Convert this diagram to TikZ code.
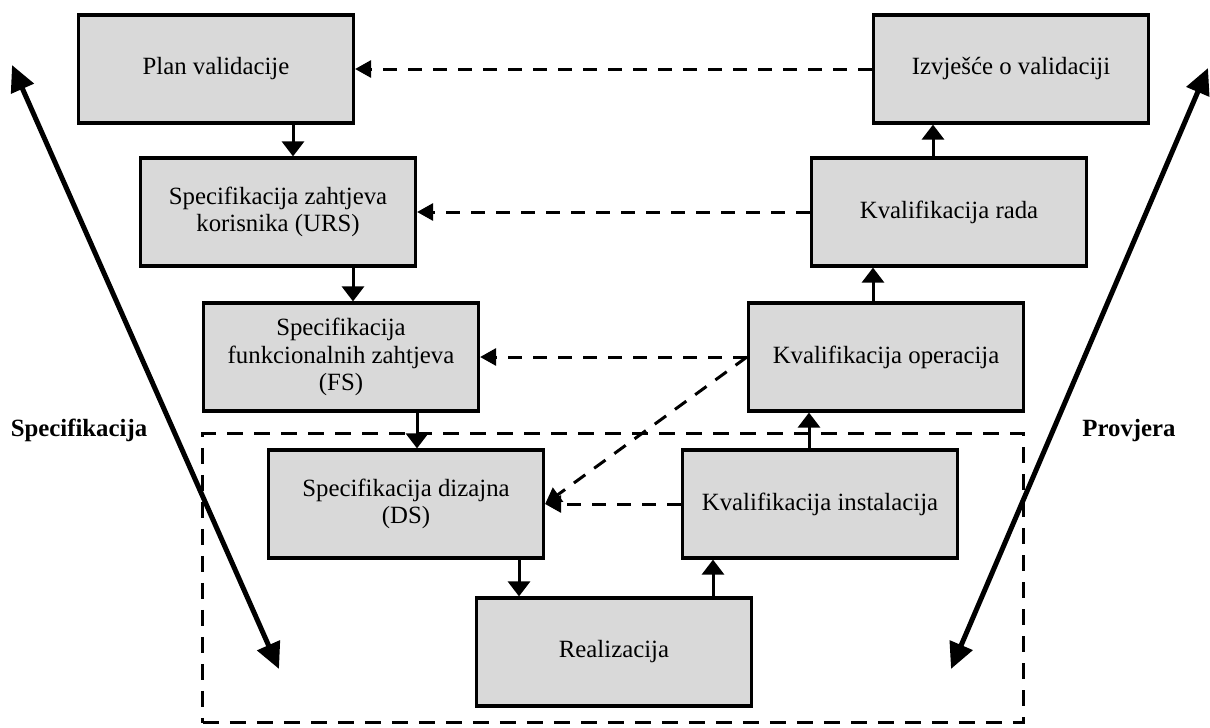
\documentclass[tikz,border=0pt]{standalone}
\usepackage{fontspec}
\setmainfont{Liberation Serif}
\usepackage{xcolor}
\usepackage{tikz}
\usetikzlibrary{calc, fit, arrows.meta}
\pgfdeclarelayer{background}
\pgfsetlayers{background,main}
\definecolor{boxgray}{HTML}{D9D9D9}
\tikzstyle{stage}     = [rectangle, minimum width=137.5pt, minimum height=54pt, inner sep=0pt, align=center, draw=black, line width=1.6pt, fill=boxgray, font=\fontsize{12.4}{13.8}\selectfont]
\tikzstyle{arrow}     = [line width=1.5pt, -{Triangle[length=7.5pt, width=11pt]}]
\tikzstyle{dasharrow} = [line width=1.5pt, dash pattern=on 7pt off 5.5pt, -{Triangle[length=8pt, width=8.5pt]}]
\tikzstyle{bigarrow}  = [line width=2.5pt, {Triangle[length=13pt, width=12pt]}-{Triangle[length=13pt, width=12pt]}]
\tikzstyle{dashbox}   = [draw, line width=1.5pt, dash pattern=on 8pt off 5.5pt, rectangle]
\tikzstyle{sidelabel} = [font=\fontsize{12.4}{14}\selectfont\bfseries]

\begin{document}
\begin{tikzpicture}[x=0.5pt, y=-0.5pt]
    \useasboundingbox (0,0) rectangle (1210,728);

    % left branch
    \node (plan) [stage] at (216,69)  {Plan validacije};
    \node (urs)  [stage] at (278,212) {Specifikacija zahtjeva\\korisnika (URS)};
    \node (fs)   [stage] at (341,357) {Specifikacija\\funkcionalnih zahtjeva\\(FS)};
    \node (ds)   [stage] at (406,504) {Specifikacija dizajna\\(DS)};
    \node (real) [stage] at (614,652) {Realizacija};

    % right branch
    \node (ki)   [stage] at (820,504) {Kvalifikacija instalacija};
    \node (ko)   [stage] at (886,357) {Kvalifikacija operacija};
    \node (kr)   [stage] at (949,212) {Kvalifikacija rada};
    \node (izv)  [stage] at (1011,69) {Izvješće o validaciji};

    \foreach \a/\b/\dx in {plan/urs/77, urs/fs/75, fs/ds/76, ds/real/113}
      \draw [arrow] ([xshift=\dx*0.5pt]\a.south) -- ([xshift=\dx*0.5pt]\a.south |- \b.north);
    \foreach \a/\b/\dx in {real/ki/99, ki/ko/-11, ko/kr/-13, kr/izv/-16}
      \draw [arrow] ([xshift=\dx*0.5pt]\a.north) -- ([xshift=\dx*0.5pt]\a.north |- \b.south);

    \draw [dasharrow] (izv) -- (plan);
    \draw [dasharrow] (kr)  -- (urs);
    \draw [dasharrow] (ko)  -- (fs);
    \draw [dasharrow] (ki)  -- (ds);
    \draw [dasharrow] (ko.west) -- (ds.east);

    \coordinate (specA) at (12,65);
    \coordinate (specB) at (279,669);
    \coordinate (provA) at (1208,68);
    \coordinate (provB) at (951,669);
    \draw [bigarrow] (specA) -- (specB);
    \draw [bigarrow] (provA) -- (provB);

    \node (spec) [sidelabel] at (79,430)   {Specifikacija};
    \node (prov) [sidelabel] at (1129,431) {Provjera};

    \begin{pgfonlayer}{background}
      \node (frame) [dashbox, fit={(ds) (ki) (real)}, inner xsep=32pt, inner ysep=7.5pt] {};
    \end{pgfonlayer}

\end{tikzpicture}
\end{document}
